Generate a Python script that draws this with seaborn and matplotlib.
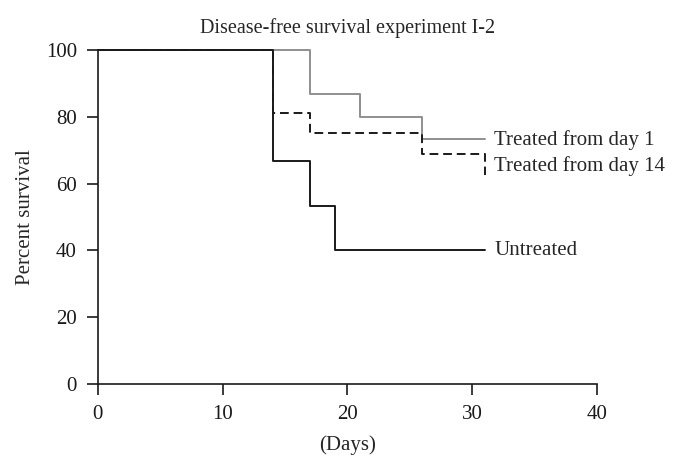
import pandas as pd
import numpy as np
import matplotlib
matplotlib.use("Agg")
import matplotlib.pyplot as plt
import seaborn as sns

# Kaplan-Meier step points
days_untreated = [0, 14, 17, 19, 31]
surv_untreated = [100, 66.7, 53.3, 40, 40]

days_day1 = [0, 17, 21, 26, 31]
surv_day1 = [100, 86.7, 80, 73.3, 73.3]

days_day14 = [0, 14, 17, 26, 31]
surv_day14 = [100, 81.25, 75, 68.75, 62.5]

labels = ["Untreated", "Treated from day 1", "Treated from day 14"]

sns.set_style("ticks")
plt.rcParams["font.family"] = ["Liberation Serif", "DejaVu Serif"]

fig = plt.figure(figsize=(6.84, 4.71), dpi=100)
ax = fig.add_axes([0.143, 0.185, 0.730, 0.709])

sns.lineplot(x=days_day1, y=surv_day1, drawstyle="steps-post", color="#8f8f8f",
             linewidth=1.4, ax=ax, estimator=None, clip_on=False)
sns.lineplot(x=days_day14, y=surv_day14, drawstyle="steps-post", color="#1a1a1a",
             linewidth=1.4, linestyle=(0, (4.5, 2.5)), ax=ax, estimator=None, clip_on=False)
sns.lineplot(x=days_untreated, y=surv_untreated, drawstyle="steps-post", color="#1a1a1a",
             linewidth=1.4, ax=ax, estimator=None, clip_on=False)

ax.text(31.75, 73.0, labels[1], fontsize=15, va="center", ha="left")
ax.text(31.75, 65.3, labels[2], fontsize=15, va="center", ha="left")
ax.text(31.75, 40.0, labels[0], fontsize=15, va="center", ha="left")

ax.set_xlim(0, 40)
ax.set_ylim(0, 100)
ax.set_xticks([0, 10, 20, 30, 40])
ax.set_yticks([0, 20, 40, 60, 80, 100])
ax.tick_params(axis="both", labelsize=15, direction="out", length=8, width=1.2,
               pad=7, colors="#1a1a1a")
for s in ["left", "bottom"]:
    ax.spines[s].set_linewidth(1.2)
    ax.spines[s].set_color("#1a1a1a")
sns.despine(ax=ax)

ax.set_xlabel("(Days)", fontsize=15, labelpad=8)
ax.set_ylabel("Percent survival", fontsize=15, labelpad=8)
ax.set_title("Disease-free survival experiment I-2", fontsize=14.5, pad=12)

plt.savefig("out.png", dpi=100)
